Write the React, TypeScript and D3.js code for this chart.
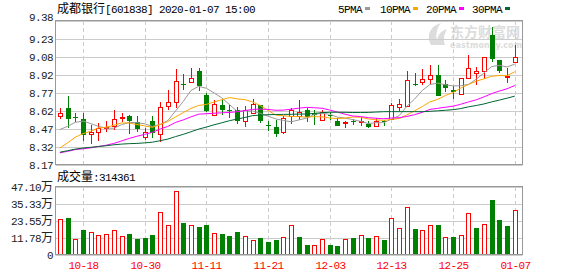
import React from "react";
import * as d3 from "d3";

// ---------- data ----------
const dates = [
  "10-15","10-16","10-17","10-18","10-21","10-22","10-23","10-24","10-25","10-28",
  "10-29","10-30","10-31","11-01","11-04","11-05","11-06","11-07","11-08","11-11",
  "11-12","11-13","11-14","11-15","11-18","11-19","11-20","11-21","11-22","11-25",
  "11-26","11-27","11-28","11-29","12-02","12-03","12-04","12-05","12-06","12-09",
  "12-10","12-11","12-12","12-13","12-16","12-17","12-18","12-19","12-20","12-23",
  "12-24","12-25","12-26","12-27","12-30","12-31","01-02","01-03","01-06","01-07",
];
const openP = [
  8.58,8.65,8.57,8.55,8.43,8.445,8.475,8.49,8.565,8.575,
  8.525,8.40,8.54,8.43,8.66,8.697,8.85,8.862,8.96,8.758,
  8.59,8.674,8.632,8.626,8.54,8.605,8.674,8.50,8.487,8.44,
  8.58,8.582,8.632,8.60,8.542,8.59,8.54,8.52,8.535,8.529,
  8.512,8.492,8.535,8.554,8.655,8.66,8.85,8.865,8.89,8.926,
  8.848,8.795,8.767,8.90,8.94,8.954,9.262,9.052,8.905,9.03,
];
const highP = [
  8.65,8.75,8.60,8.60,8.50,8.52,8.54,8.63,8.60,8.59,
  8.575,8.475,8.575,8.70,8.80,8.974,8.935,8.983,8.983,8.77,
  8.716,8.72,8.674,8.652,8.665,8.72,8.674,8.535,8.548,8.575,
  8.647,8.71,8.647,8.626,8.626,8.613,8.562,8.535,8.556,8.571,
  8.535,8.562,8.542,8.69,8.72,8.96,8.94,8.977,9.01,9.01,
  8.878,8.828,8.90,9.094,8.996,9.075,9.332,9.052,8.983,9.18,
];
const lowP = [
  8.55,8.48,8.525,8.37,8.34,8.37,8.44,8.46,8.525,8.43,
  8.44,8.38,8.395,8.36,8.63,8.647,8.795,8.857,8.786,8.61,
  8.576,8.584,8.562,8.515,8.487,8.596,8.52,8.45,8.403,8.43,
  8.513,8.548,8.529,8.506,8.535,8.542,8.492,8.474,8.50,8.492,
  8.474,8.487,8.492,8.548,8.618,8.655,8.828,8.842,8.85,8.744,
  8.778,8.725,8.767,8.89,8.842,8.89,9.038,8.94,8.857,9.03,
];
const closeP = [
  8.60,8.555,8.56,8.42,8.44,8.48,8.485,8.55,8.57,8.535,
  8.47,8.44,8.435,8.655,8.697,8.876,8.84,8.90,8.828,8.618,
  8.68,8.632,8.618,8.54,8.632,8.68,8.535,8.495,8.43,8.562,
  8.626,8.613,8.571,8.588,8.613,8.582,8.492,8.529,8.525,8.54,
  8.484,8.535,8.525,8.675,8.683,8.884,8.836,8.89,8.926,8.744,
  8.815,8.785,8.90,8.983,8.96,9.075,9.058,8.954,8.915,9.075,
];
// closes of the 29 sessions before the first visible one (needed by the moving averages)
const priorCloses = [
  8.18,8.15,8.15,8.25,8.28,8.30,8.30,8.40,8.42,8.41,
  8.30,8.27,8.28,8.28,8.25,8.27,8.25,8.15,8.11,8.10,
  8.13,8.08,8.12,8.24,8.20,8.42,8.39,8.37,8.54,
];
const volume = [
  247300,258300,110800,173200,159300,138500,145500,171100,131600,145500,
  110800,119800,138500,297800,205700,443300,221600,205700,193900,207800,
  152400,145500,131600,159300,131600,101800,117800,90000,103900,124700,
  205700,124700,69300,69300,110800,69300,62300,110800,117800,138500,
  117800,131600,103900,256300,187000,332500,180100,173200,207800,207800,
  124700,124700,138500,290900,187000,214700,380900,242400,200900,314361,
];
const xTickLabels = ["10-18","10-30","11-11","11-21","12-03","12-13","12-25","01-07"];
const priceTickLabels = ["9.38","9.23","9.08","8.92","8.77","8.62","8.47","8.32","8.17"];
const volTickLabels = ["47.10万","35.33万","23.55万","11.78万","0"];
const maPeriods = [5, 10, 20, 30];
const maNames = ["5PMA", "10PMA", "20PMA", "30PMA"];
const title = "成都银行[601838] 2020-01-07 15:00";
const volTitle = "成交量:314361";

// ---------- style ----------
const RED = "#ff0000";
const GREEN = "#008000";
const maColors = ["#999999", "#ffa500", "#ff00ff", "#006633"];
const GRID = "#cccccc";
const BORDER = "#999999";
const L = 55.5, R = 522.5;
const PT = 21, PB = 165;
const VT = 187, VB = 255;

const monoStyle: React.CSSProperties = {
  fontFamily: "'Liberation Mono', 'DejaVu Sans Mono', monospace",
  fontSize: "11px",
  letterSpacing: "-0.6px",
};
const cjkStyle: React.CSSProperties = {
  fontFamily: "'Noto Sans CJK SC', sans-serif",
  fontSize: "12px",
};

function runs(s: string) {
  const out: { t: string; cjk: boolean }[] = [];
  for (const ch of s) {
    const c = /[\u2E80-\u9FFF\uFF00-\uFFEF]/.test(ch);
    if (out.length && out[out.length - 1].cjk === c) out[out.length - 1].t += ch;
    else out.push({ t: ch, cjk: c });
  }
  return out;
}

function MText({ x, y, s, anchor = "start", fill = "#000" }: any) {
  return (
    <text x={x} y={y} textAnchor={anchor} fill={fill}>
      {runs(s).map((r, i) => (
        <tspan key={i} style={r.cjk ? cjkStyle : monoStyle}>{r.t}</tspan>
      ))}
    </text>
  );
}

export default function App() {
  const x = d3.scaleBand<string>().domain(dates).range([56, 518.6]);
  const cxOf = (d: string) => Math.round(x(d)! + x.bandwidth() / 2) + 0.5;
  const priceMin = 8.165, priceMax = 9.38;
  const yP = d3.scaleLinear().domain([priceMin, priceMax]).range([PB, PT]);
  const volMax = 471000;
  const yV = d3.scaleLinear().domain([0, volMax]).range([VB, VT]);

  const allCloses = priorCloses.concat(closeP);
  const off = priorCloses.length;
  const maSeries = maPeriods.map((n) =>
    closeP.map((_, i) => d3.mean(allCloses.slice(off + i - n + 1, off + i + 1))!)
  );

  const priceTicks = priceTickLabels.map((_, k) => priceMax - (k * (priceMax - priceMin)) / 8);
  const volTicks = volTickLabels.map((_, k) => volMax - (k * volMax) / 4);

  const line = d3
    .line<number>()
    .x((_, i) => x(dates[i])! + x.bandwidth() / 2)
    .y((v) => yP(v));

  return (
    <svg
      width={578}
      height={276}
      style={{ position: "absolute", left: 0, top: 0, background: "#fff" }}
    >
      <rect x={0} y={0} width={578} height={276} fill="#fff" />
      {/* watermark */}
      <g fill="#dcdcdc">
        <path d="M431 45 C426 36 430 26 441 23 C436 29 435 37 438 45 Z" />
        <path d="M437 45 C436 37 440 31 447 29 C444 34 443 40 445 45 Z" />
        <text x={450} y={36.5} style={{ fontFamily: "'Noto Sans CJK SC', sans-serif", fontSize: "14px", fontWeight: 700 }}>东方财富网</text>
        <text x={450} y={47.5} style={{ fontFamily: "'DejaVu Sans', sans-serif", fontSize: "8px", fontWeight: 700 }} textLength={72}>eastmoney.com</text>
      </g>

      {/* title and legend */}
      <MText x={57} y={13} s={title} />
      {maNames.map((n, i) => {
        const lx = [338, 380, 426, 472][i];
        return (
          <g key={n}>
            <MText x={lx} y={12.5} s={n} />
            <rect x={lx + n.length * 6 + 3} y={7} width={5} height={3} fill={maColors[i]} />
          </g>
        );
      })}

      {/* price grid */}
      {priceTicks.map((t, k) => (
        <line key={k} x1={L} x2={R} y1={Math.round(yP(t)) + 0.5} y2={Math.round(yP(t)) + 0.5} stroke={GRID} />
      ))}
      {volTicks.map((t, k) => (
        <line key={k} x1={L} x2={R} y1={Math.round(yV(t)) + 0.5} y2={Math.round(yV(t)) + 0.5} stroke={GRID} />
      ))}
      {xTickLabels.map((lab) => {
        const cx = cxOf(lab);
        return (
          <g key={lab}>
            <line x1={cx} x2={cx} y1={PT} y2={PB} stroke={GRID} strokeDasharray="4,3" />
            <line x1={cx} x2={cx} y1={VT} y2={VB} stroke={GRID} strokeDasharray="4,3" />
            <MText x={cx} y={269} s={lab} anchor="middle" fill={RED} />
          </g>
        );
      })}

      {/* candles */}
      {dates.map((d, i) => {
        const cx = cxOf(d);
        const up = closeP[i] > openP[i];
        const col = up ? RED : GREEN;
        const yO = Math.round(yP(openP[i]));
        const yC = Math.round(yP(closeP[i]));
        const top = Math.min(yO, yC), bot = Math.max(yO, yC);
        const yH = Math.round(yP(highP[i])), yL = Math.round(yP(lowP[i]));
        return (
          <g key={d}>
            <line x1={cx} x2={cx} y1={yH} y2={yL} stroke={col} />
            {bot - top < 1 ? (
              <line x1={cx - 2.5} x2={cx + 2.5} y1={top + 0.5} y2={top + 0.5} stroke={col} />
            ) : up ? (
              <rect x={cx - 2} y={top + 0.5} width={4} height={bot - top} fill="#fff" stroke={col} />
            ) : (
              <rect x={cx - 2.5} y={top} width={5} height={bot - top} fill={col} />
            )}
          </g>
        );
      })}

      {/* moving averages */}
      {maSeries.map((s, k) => (
        <path key={k} d={line(s)!} fill="none" stroke={maColors[k]} strokeWidth={1} />
      ))}

      {/* volume */}
      {dates.map((d, i) => {
        const cx = cxOf(d);
        const prev = i === 0 ? priorCloses[priorCloses.length - 1] : closeP[i - 1];
        const up = closeP[i] >= prev;
        const yTop = Math.round(yV(volume[i]));
        return up ? (
          <rect key={d} x={cx - 2} y={yTop + 0.5} width={4} height={VB - yTop - 1} fill="#fff" stroke={RED} />
        ) : (
          <rect key={d} x={cx - 2.5} y={yTop} width={5} height={VB - yTop} fill={GREEN} />
        );
      })}

      {/* borders */}
      <rect x={L} y={PT - 0.5} width={R - L} height={PB - PT} fill="none" stroke={BORDER} />
      <rect x={L} y={VT - 0.5} width={R - L} height={VB - VT} fill="none" stroke={BORDER} />

      {/* axis labels */}
      {priceTickLabels.map((lab, k) => (
        <MText key={lab} x={53} y={k === 0 ? yP(priceTicks[k]) : yP(priceTicks[k]) + 4} s={lab} anchor="end" fill="#222" />
      ))}
      {volTickLabels.map((lab, k) => (
        <MText key={lab} x={53} y={yV(volTicks[k]) + 4} s={lab} anchor="end" fill="#222" />
      ))}
      <MText x={57} y={181} s={volTitle} />
    </svg>
  );
}
